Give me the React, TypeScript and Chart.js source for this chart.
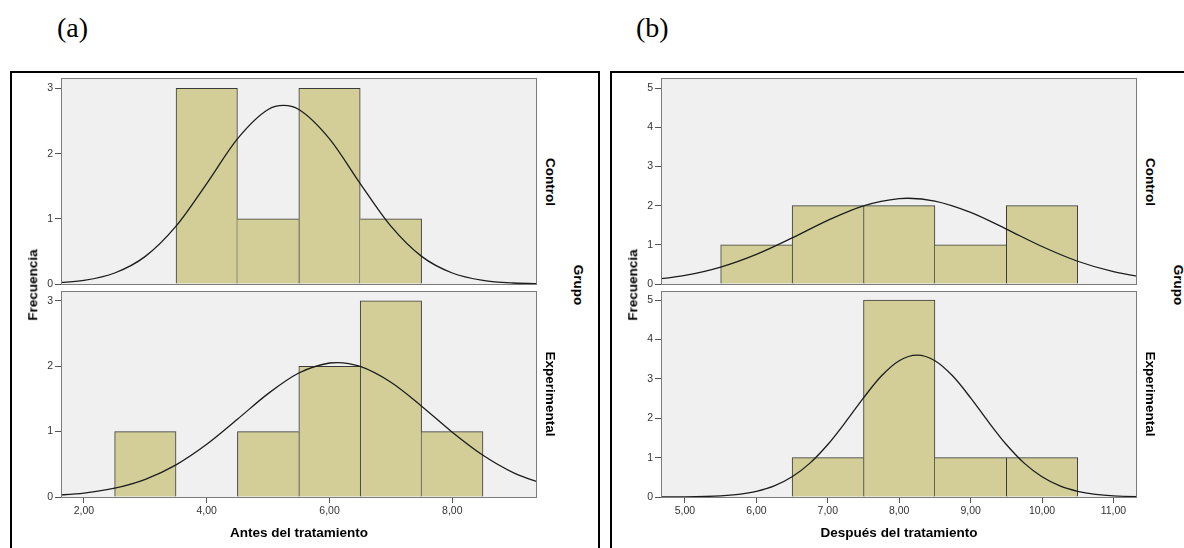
import React, { useEffect, useRef } from "react";
import { Chart, registerables } from "chart.js";
Chart.register(...registerables);

// ---------- data ----------
const xTicksAntes = [2, 4, 6, 8];
const xTicksDespues = [5, 6, 7, 8, 9, 10, 11];
const yTicksAntes = [0, 1, 2, 3];
const yTicksDespues = [0, 1, 2, 3, 4, 5];

const binsAntesControl = [4, 5, 6, 7];
const countsAntesControl = [3, 1, 3, 1];
const binsAntesExp = [3, 5, 6, 7, 8];
const countsAntesExp = [1, 1, 2, 3, 1];
const binsDespuesControl = [6, 7, 8, 9, 10];
const countsDespuesControl = [1, 2, 2, 1, 2];
const binsDespuesExp = [7, 8, 9, 10];
const countsDespuesExp = [1, 5, 1, 1];

const curveXAntesControl = [1.5, 2, 2.5, 3, 3.5, 4, 4.5, 5, 5.25, 5.5, 6, 6.5, 7, 7.5, 8, 8.5, 9, 9.5];
const curveYAntesControl = [0.015, 0.056, 0.169, 0.424, 0.887, 1.541, 2.227, 2.677, 2.74, 2.677, 2.227, 1.541, 0.887, 0.424, 0.169, 0.056, 0.015, 0.004];
const curveXAntesExp = [1.5, 2, 2.5, 3, 3.5, 4, 4.5, 5, 5.5, 6, 6.125, 6.5, 7, 7.5, 8, 8.5, 9, 9.5];
const curveYAntesExp = [0.024, 0.06, 0.135, 0.271, 0.492, 0.806, 1.189, 1.581, 1.896, 2.049, 2.056, 1.996, 1.754, 1.389, 0.991, 0.638, 0.37, 0.194];
const curveXDespuesControl = [4.5, 5, 5.5, 6, 6.5, 7, 7.5, 8, 8.125, 8.5, 9, 9.5, 10, 10.5, 11, 11.5];
const curveYDespuesControl = [0.099, 0.22, 0.433, 0.757, 1.176, 1.626, 1.997, 2.181, 2.189, 2.118, 1.829, 1.403, 0.958, 0.581, 0.313, 0.15];
const curveXDespuesExp = [4.5, 5, 5.5, 5.75, 6, 6.25, 6.5, 6.75, 7, 7.25, 7.5, 7.75, 8, 8.25, 8.5, 8.75, 9, 9.25, 9.5, 9.75, 10, 10.25, 10.5, 10.75, 11, 11.5];
const curveYDespuesExp = [0.0005, 0.004, 0.029, 0.068, 0.144, 0.282, 0.513, 0.86, 1.332, 1.906, 2.517, 3.071, 3.46, 3.601, 3.46, 3.071, 2.517, 1.906, 1.332, 0.86, 0.513, 0.282, 0.144, 0.068, 0.029, 0.004];

const xRangeAntes = [1.626, 9.38];
const xRangeDespues = [4.664, 11.33];
const yMaxAntesControl = 3.16;
const yMaxAntesExp = 3.15;
const yMaxDespuesControl = 5.26;
const yMaxDespuesExp = 5.23;

// ---------- styling ----------
const SANS = '"Liberation Sans", Arial, sans-serif';
const SERIF = '"Liberation Serif", "Times New Roman", serif';
const BAR_FILL = "#d3ce97";
const BAR_EDGE = "#3a3a3a";

const fmt = (v: number) => v.toFixed(2).replace(".", ",");

type HistProps = {
  left: number;
  top: number;
  width: number;
  height: number;
  xRange: number[];
  yMax: number;
  xTicks: number[];
  yTicks: number[];
  bins: number[];
  counts: number[];
  curveX: number[];
  curveY: number[];
  showX: boolean;
};

const framePlugin = {
  id: "spssFrame",
  beforeDraw(chart: any) {
    const { ctx, chartArea: a } = chart;
    ctx.save();
    ctx.fillStyle = "#f0f0f0";
    ctx.fillRect(a.left, a.top, a.right - a.left, a.bottom - a.top);
    ctx.restore();
  },
  afterDraw(chart: any) {
    const { ctx, chartArea: a } = chart;
    ctx.save();
    ctx.strokeStyle = "#7c7c7c";
    ctx.lineWidth = 1;
    ctx.strokeRect(a.left + 0.5, a.top + 0.5, a.right - a.left - 1, a.bottom - a.top);
    ctx.restore();
  },
};

function Histogram(p: HistProps) {
  const ref = useRef<HTMLCanvasElement>(null);
  const YW = 22;
  const PAD = 2;
  const XH = p.showX ? 26 : 10;
  const cw = YW + p.width + PAD;
  const ch = PAD + p.height + XH;

  useEffect(() => {
    if (!ref.current) return;
    const barData = p.bins.map((b, i) => ({ x: b, y: p.counts[i] }));
    const lineData = p.curveX.map((x, i) => ({ x, y: p.curveY[i] }));
    const tickFont = { family: SANS, size: 10.5 };
    const countAt = (x: number) => {
      const i = p.bins.indexOf(x);
      return i < 0 ? null : p.counts[i];
    };
    const chart = new Chart(ref.current, {
      type: "bar",
      data: {
        datasets: [
          {
            type: "line",
            data: lineData,
            borderColor: "#1c1c1c",
            borderWidth: 1.3,
            pointRadius: 0,
            cubicInterpolationMode: "monotone",
            fill: false,
            order: 0,
          } as any,
          {
            type: "bar",
            data: barData,
            backgroundColor: BAR_FILL,
            borderColor: BAR_EDGE,
            borderWidth: (ctx: any) => {
              const raw = ctx.raw;
              if (!raw) return 1;
              const prev = countAt(raw.x - 1);
              const next = countAt(raw.x + 1);
              const left = prev === null || prev <= raw.y ? 1 : 0;
              const right = next === null || next < raw.y ? 1 : 0;
              return { top: 1, left, right, bottom: 0 };
            },
            barPercentage: 1,
            categoryPercentage: 1,
            order: 1,
          } as any,
        ],
      },
      options: {
        animation: false,
        responsive: false,
        maintainAspectRatio: false,
        events: [],
        layout: { padding: { top: PAD, right: PAD, left: 0, bottom: 0 } },
        plugins: {
          legend: { display: false },
          tooltip: { enabled: false },
          title: { display: false },
        },
        scales: {
          x: {
            type: "linear",
            min: p.xRange[0],
            max: p.xRange[1],
            offset: false,
            afterBuildTicks: (s: any) => {
              s.ticks = p.xTicks.map((v) => ({ value: v }));
            },
            afterFit: (s: any) => {
              s.height = XH;
              s.paddingLeft = 0;
              s.paddingRight = 0;
              s.paddingTop = 0;
              s.paddingBottom = 0;
            },
            ticks: {
              display: p.showX,
              font: tickFont,
              color: "#333",
              padding: 2,
              maxRotation: 0,
              autoSkip: false,
              callback: (v: any) => fmt(Number(v)),
            },
            grid: {
              display: true,
              drawOnChartArea: false,
              drawTicks: p.showX,
              tickLength: 6,
              color: "#555",
              offset: false,
            },
            border: { display: false },
          },
          y: {
            type: "linear",
            min: 0,
            max: p.yMax,
            afterBuildTicks: (s: any) => {
              s.ticks = p.yTicks.map((v) => ({ value: v }));
            },
            afterFit: (s: any) => {
              s.width = YW;
              s.paddingLeft = 0;
              s.paddingRight = 0;
              s.paddingTop = 0;
              s.paddingBottom = 0;
            },
            ticks: {
              font: tickFont,
              color: "#333",
              padding: 2,
              callback: (v: any) => String(v),
            },
            grid: {
              display: true,
              drawOnChartArea: false,
              tickLength: 6,
              color: "#555",
            },
            border: { display: false },
          },
        },
      } as any,
      plugins: [framePlugin],
    });
    return () => chart.destroy();
  }, []);

  return (
    <canvas
      ref={ref}
      width={cw}
      height={ch}
      style={{
        position: "absolute",
        left: p.left - YW,
        top: p.top - PAD,
        width: cw,
        height: ch,
      }}
    />
  );
}

function Label(props: { text: string; cx: number; cy: number; rot?: number; size?: number }) {
  return (
    <div
      style={{
        position: "absolute",
        left: props.cx,
        top: props.cy,
        transform: `translate(-50%, -50%) rotate(${props.rot || 0}deg)`,
        whiteSpace: "nowrap",
        fontFamily: SANS,
        fontWeight: "bold",
        fontSize: props.size || 13.5,
        lineHeight: 1,
        color: "#000",
      }}
    >
      {props.text}
    </div>
  );
}

export default function App() {
  const plotW = 476;
  return (
    <div
      style={{
        position: "absolute",
        left: 0,
        top: 0,
        width: 1184,
        height: 548,
        overflow: "hidden",
        background: "#fff",
      }}
    >
      <div style={{ position: "absolute", left: 57, top: 14, fontFamily: SERIF, fontSize: 28, lineHeight: 1 }}>(a)</div>
      <div style={{ position: "absolute", left: 636, top: 14, fontFamily: SERIF, fontSize: 28, lineHeight: 1 }}>(b)</div>

      <div
        style={{
          position: "absolute",
          left: 10,
          top: 71,
          width: 590,
          height: 500,
          border: "2px solid #000",
          boxSizing: "border-box",
        }}
      />
      <div
        style={{
          position: "absolute",
          left: 610,
          top: 71,
          width: 620,
          height: 500,
          border: "2px solid #000",
          boxSizing: "border-box",
        }}
      />

      {/* Panel (a) */}
      <Histogram left={61} top={78} width={plotW} height={206} xRange={xRangeAntes} yMax={yMaxAntesControl}
        xTicks={xTicksAntes} yTicks={yTicksAntes} bins={binsAntesControl} counts={countsAntesControl}
        curveX={curveXAntesControl} curveY={curveYAntesControl} showX={false} />
      <Histogram left={61} top={291} width={plotW} height={206} xRange={xRangeAntes} yMax={yMaxAntesExp}
        xTicks={xTicksAntes} yTicks={yTicksAntes} bins={binsAntesExp} counts={countsAntesExp}
        curveX={curveXAntesExp} curveY={curveYAntesExp} showX={true} />

      {/* Panel (b) */}
      <Histogram left={661} top={78} width={plotW} height={206} xRange={xRangeDespues} yMax={yMaxDespuesControl}
        xTicks={xTicksDespues} yTicks={yTicksDespues} bins={binsDespuesControl} counts={countsDespuesControl}
        curveX={curveXDespuesControl} curveY={curveYDespuesControl} showX={false} />
      <Histogram left={661} top={291} width={plotW} height={206} xRange={xRangeDespues} yMax={yMaxDespuesExp}
        xTicks={xTicksDespues} yTicks={yTicksDespues} bins={binsDespuesExp} counts={countsDespuesExp}
        curveX={curveXDespuesExp} curveY={curveYDespuesExp} showX={true} />

      <Label text="Frecuencia" cx={33} cy={285} rot={-90} />
      <Label text="Control" cx={550} cy={182} rot={90} />
      <Label text="Experimental" cx={550} cy={394} rot={90} />
      <Label text="Grupo" cx={578} cy={285} rot={90} />
      <Label text="Antes del tratamiento" cx={299} cy={533} />

      <Label text="Frecuencia" cx={633} cy={285} rot={-90} />
      <Label text="Control" cx={1150} cy={182} rot={90} />
      <Label text="Experimental" cx={1150} cy={394} rot={90} />
      <Label text="Grupo" cx={1178} cy={285} rot={90} />
      <Label text="Después del tratamiento" cx={899} cy={533} />
    </div>
  );
}
